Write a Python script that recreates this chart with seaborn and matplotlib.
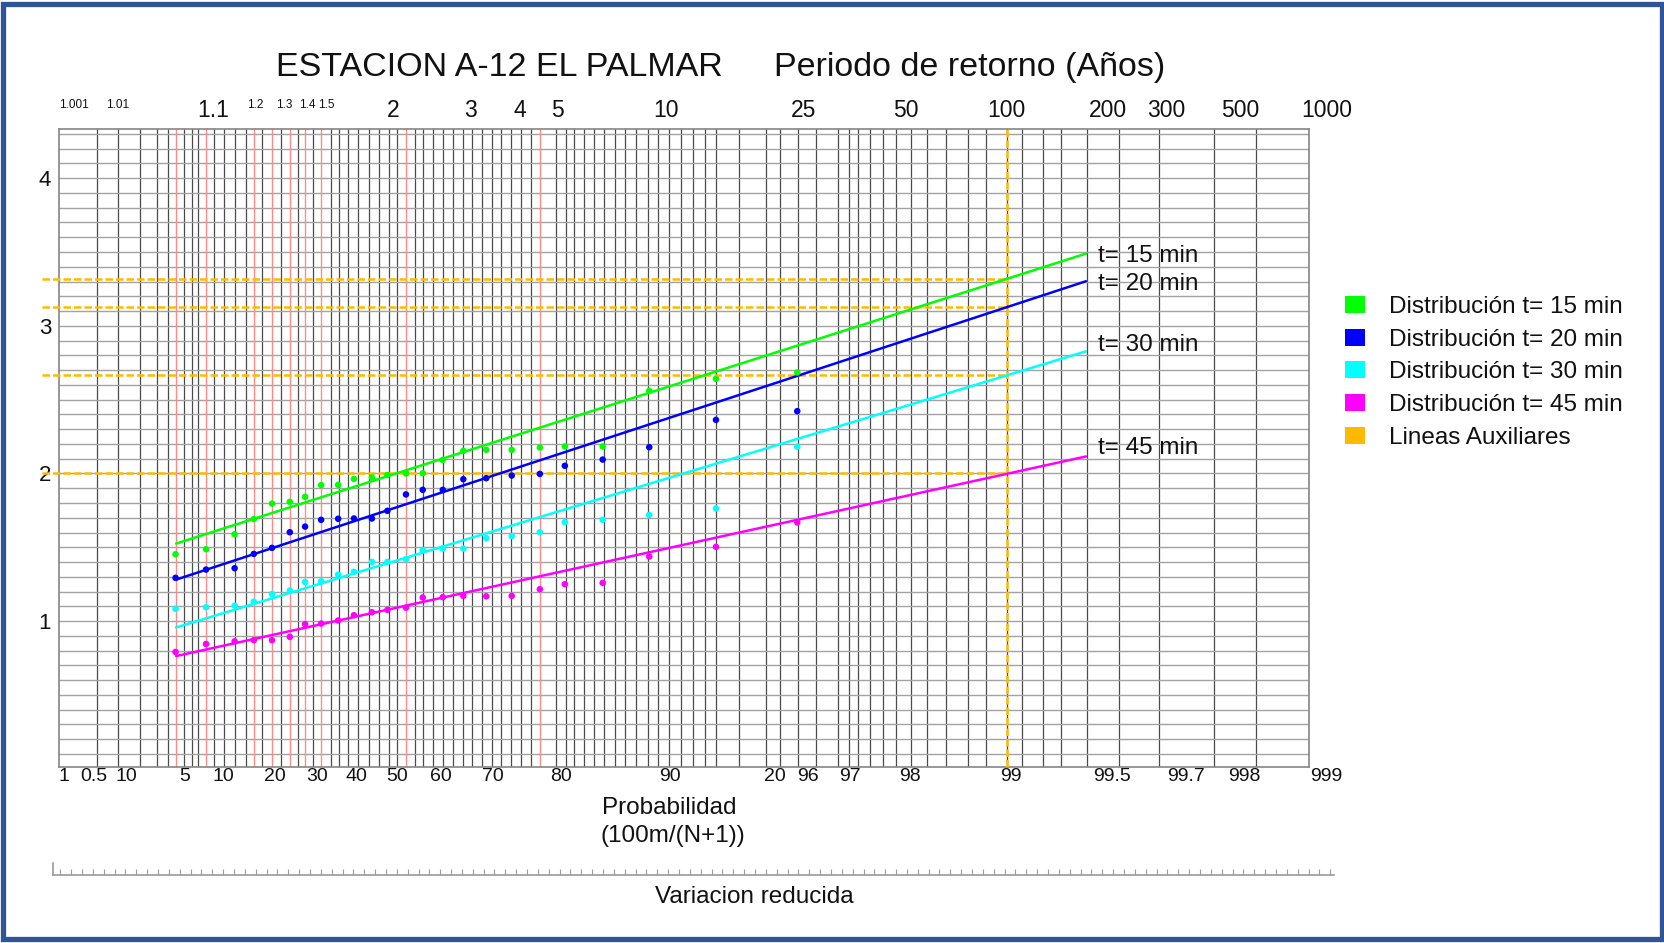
import numpy as np
import pandas as pd
import matplotlib
matplotlib.use("Agg")
import matplotlib.pyplot as plt
import seaborn as sns
from matplotlib.patches import Patch, Rectangle
from matplotlib.ticker import MultipleLocator, NullLocator

# ---- data -----------------------------------------------------------------
# plotting position (non-exceedance probability, %) of each sample
prob_pct = [4.5, 8.1, 12.7, 16.4, 20.3, 24.4, 28.1, 32.1, 36.4, 40.4, 44.9, 48.7,
            53.1, 56.9, 61.2, 65.3, 69.5, 73.7, 77.77, 80.93, 84.96, 88.85, 92.81, 95.83]

val_15 = [1.453, 1.487, 1.588, 1.691, 1.796, 1.808, 1.842, 1.921, 1.923, 1.963, 1.973, 1.989,
          2.000, 2.002, 2.092, 2.153, 2.160, 2.160, 2.176, 2.183, 2.183, 2.560, 2.641, 2.684]
val_20 = [1.293, 1.349, 1.358, 1.455, 1.496, 1.602, 1.640, 1.686, 1.693, 1.695, 1.695, 1.747,
          1.858, 1.889, 1.889, 1.961, 1.968, 1.986, 1.997, 2.052, 2.094, 2.178, 2.363, 2.422]
val_30 = [1.083, 1.094, 1.105, 1.132, 1.184, 1.207, 1.265, 1.270, 1.315, 1.334, 1.401, 1.401,
          1.419, 1.481, 1.491, 1.491, 1.562, 1.576, 1.602, 1.670, 1.686, 1.719, 1.763, 2.181]
val_45 = [0.791, 0.845, 0.863, 0.871, 0.871, 0.893, 0.979, 0.983, 1.004, 1.040, 1.060, 1.076,
          1.091, 1.160, 1.162, 1.171, 1.168, 1.171, 1.216, 1.250, 1.259, 1.437, 1.503, 1.668]

# fitted Gumbel lines (two end points each)
fit_prob = [4.55, 99.42]
fit_15 = [1.525, 3.489]
fit_20 = [1.281, 3.302]
fit_30 = [0.957, 2.827]
fit_45 = [0.763, 2.115]

# auxiliary lines: value at T = 100 years
aux_prob = [0.042, 99.0]
aux_values = [3.32, 3.13, 2.665, 2.0]

series = ["t= 15 min", "t= 20 min", "t= 30 min", "t= 45 min"]
colors = ["#00FF00", "#0000FF", "#00FFFF", "#FF00FF"]
aux_color = "#FFBA00"

# samples that carry a red guide line
red_idx = [0, 1, 3, 4, 5, 6, 7, 12, 18]

# vertical grid of the paper, in reduced variate
grid_var = [-1.674, -1.529, -1.375, -1.261, -1.184, -1.073, -1.021, -0.974, -0.867, -0.796,
            -0.722, -0.645, -0.534, -0.405, -0.290, -0.184, -0.063, -0.005, 0.057, 0.125,
            0.202, 0.273, 0.340, 0.396, 0.519, 0.574, 0.643, 0.713, 0.780, 0.848, 0.913,
            0.981, 1.051, 1.113, 1.181, 1.252, 1.319, 1.495, 1.559, 1.619, 1.683, 1.751,
            1.821, 1.896, 1.966, 2.043, 2.126, 2.197, 2.274, 2.356, 2.437, 2.520, 2.595,
            2.754, 2.940, 3.036, 3.158, 3.285, 3.436, 3.516, 3.577, 3.658, 3.750, 3.837,
            3.942, 4.050, 4.181, 4.334, 4.458, 4.602, 4.705, 4.848, 4.974, 5.154, 5.376,
            5.649, 6.029, 6.320]

# top axis: return period (years)
T_big = [1.1, 2, 3, 4, 5, 10, 25, 50, 100, 200, 300, 500, 1000]
T_small = [1.001, 1.01, 1.2, 1.3, 1.4, 1.5]
# bottom axis: probability labels as printed
bottom_prob = [0.1, 0.5, 1, 5, 10, 20, 30, 40, 50, 60, 70, 80, 90, 95, 96, 97, 98, 99,
               99.5, 99.7, 99.8, 99.9]
bottom_text = ["1", "0.5", "10", "5", "10", "20", "30", "40", "50", "60", "70", "80", "90",
               "20", "96", "97", "98", "99", "99.5", "99.7", "998", "999"]


def fwd(p):
    p = np.clip(np.asarray(p, dtype=float) / 100.0, 1e-12, 1 - 1e-12)
    return -np.log(-np.log(p))


def inv(y):
    return 100.0 * np.exp(-np.exp(-np.asarray(y, dtype=float)))


sns.set_theme(style="white")
plt.rcParams["font.family"] = ["Liberation Sans", "DejaVu Sans"]

fig = plt.figure(figsize=(16.65, 9.43), dpi=100)
ax = fig.add_axes([0.0357, 0.1870, 0.7507, 0.6757])
ax.set_xscale("function", functions=(fwd, inv))

pts = pd.DataFrame({
    "prob": prob_pct * 4,
    "valor": val_15 + val_20 + val_30 + val_45,
    "serie": np.repeat(series, len(prob_pct)),
})
fits = pd.DataFrame({
    "prob": fit_prob * 4,
    "valor": fit_15 + fit_20 + fit_30 + fit_45,
    "serie": np.repeat(series, len(fit_prob)),
})
pal = dict(zip(series, colors))

# red guide lines
for i in red_idx:
    ax.axvline(prob_pct[i], color="#FF8A8A", lw=1.0, zorder=1.5)

# auxiliary lines
for v in aux_values:
    ax.plot(aux_prob, [v, v], color=aux_color, lw=1.8, ls=(0, (3, 1.2)),
            clip_on=False, zorder=3)
ax.axvline(aux_prob[1], color=aux_color, lw=1.8, ls=(0, (3, 1.2)), zorder=3)

sns.lineplot(data=fits, x="prob", y="valor", hue="serie", palette=pal, lw=1.8,
             estimator=None, legend=False, ax=ax, zorder=4)
sns.scatterplot(data=pts, x="prob", y="valor", hue="serie", palette=pal, s=22,
                edgecolor="none", legend=False, ax=ax, zorder=5)

ax.set_xlim(0.1, 99.8755)
ax.set_ylim(0.014, 4.33)
ax.set_xlabel("")
ax.set_ylabel("")

# paper grid
ax.xaxis.set_major_locator(NullLocator())
ax.set_xticks(inv(grid_var), minor=True)
ax.set_yticks([1, 2, 3, 4])
ax.set_yticks(np.arange(0.1, 4.31, 0.1), minor=True)
ax.xaxis.grid(True, which="minor", color="#4a4a4a", lw=0.9)
ax.yaxis.grid(True, which="both", color="#a3a3a3", lw=1.0)
ax.tick_params(which="both", length=0)
ax.tick_params(axis="x", which="both", labelbottom=False)
ax.tick_params(axis="y", labelsize=16, pad=6, labelcolor="#111111")
for s in ax.spines.values():
    s.set_color("#858585")
    s.set_linewidth(1.2)

# labels at the end of the fitted lines
ends = [fit_15[1], fit_20[1], fit_30[1], fit_45[1]]
dys = [-1.8, -1.8, 4.8, 6.0]
for name, e, dy in zip(series, ends, dys):
    ax.annotate(name, xy=(fit_prob[1], e), xytext=(8.4, dy), textcoords="offset points",
                ha="left", va="center", fontsize=17.5, color="#111111")

# top labels (return period)
for T in T_big:
    ha, dx = "center", 0
    if T == 1000:
        ha, dx = "right", 8
    ax.annotate(f"{T:g}", xy=(100.0 * (1 - 1.0 / T), 1), xycoords=("data", "axes fraction"),
                xytext=(dx, 13.9), textcoords="offset points", ha=ha, va="center",
                fontsize=16.5, color="#111111", annotation_clip=False)
for T in T_small:
    ha = "left" if T == 1.001 else "center"
    ax.annotate(f"{T:g}", xy=(100.0 * (1 - 1.0 / T), 1), xycoords=("data", "axes fraction"),
                xytext=(0, 17.5), textcoords="offset points", ha=ha, va="center",
                fontsize=8.5, color="#111111", annotation_clip=False)

# bottom labels (probability)
for p, t in zip(bottom_prob, bottom_text):
    dx = 3
    if p == 0.5:
        dx = -3
    elif p == 1:
        dx = 6
    elif p == 99.9:
        dx = -11
    ax.annotate(t, xy=(p, 0), xycoords=("data", "axes fraction"), xytext=(dx, -7),
                textcoords="offset points", ha="center", va="center", fontsize=14,
                color="#111111", annotation_clip=False)

# titles and axis texts
fig.text(0.2998, 0.928, "ESTACION A-12 EL PALMAR", ha="center", va="center",
         fontsize=24.5, color="#111111")
fig.text(0.5823, 0.928, "Periodo de retorno (Años)", ha="center", va="center",
         fontsize=24.5, color="#111111")
fig.text(0.4018, 0.1431, "Probabilidad", ha="center", va="center", fontsize=17.5,
         color="#111111")
fig.text(0.4043, 0.1138, "(100m/(N+1))", ha="center", va="center", fontsize=17.5,
         color="#111111")
fig.text(0.4528, 0.0487, "Variacion reducida", ha="center", va="center", fontsize=17.5,
         color="#111111")

# legend
handles = [Patch(facecolor=c, edgecolor="none", label="Distribución " + s)
           for s, c in zip(series, colors)]
handles.append(Patch(facecolor=aux_color, edgecolor="none", label="Lineas Auxiliares"))
fig.legend(handles=handles, loc="center left", bbox_to_anchor=(0.808, 0.605),
           frameon=False, fontsize=17.5, handlelength=0.8, handleheight=0.7,
           handletextpad=1.0, labelspacing=0.45, borderpad=0, borderaxespad=0,
           labelcolor="#111111")

# reduced variate scale under the chart
ax_s = fig.add_axes([0.0319, 0.0721, 0.7692, 0.0127])
ax_s.set_facecolor("none")
ax_s.set_xlim(-2.0, 6.85)
ax_s.set_ylim(0, 1)
ax_s.xaxis.set_major_locator(MultipleLocator(0.075))
ax_s.set_yticks([])
ax_s.tick_params(axis="x", bottom=True, direction="in", length=4, width=0.8,
                 color="#9a9a9a", labelbottom=False)
for side in ["top", "right"]:
    ax_s.spines[side].set_visible(False)
for side in ["left", "bottom"]:
    ax_s.spines[side].set_color("#9a9a9a")
    ax_s.spines[side].set_linewidth(1.2)

# blue frame around the picture
fig.patches.append(Rectangle((0.0018, 0.004), 0.9964, 0.992, transform=fig.transFigure,
                             fill=False, edgecolor="#2F5597", lw=3.8))

fig.savefig("out.png", dpi=100)
plt.close(fig)
